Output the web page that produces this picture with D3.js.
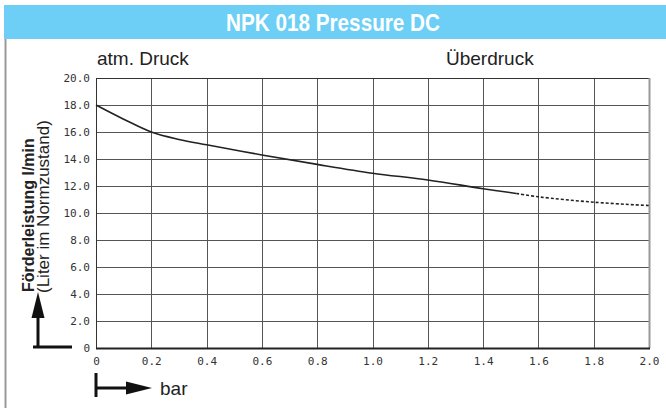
<!DOCTYPE html>
<html>
<head>
<meta charset="utf-8">
<script src="https://cdn.jsdelivr.net/npm/d3@7"></script>
<style>
  body { margin: 0; background: #fff; }
  svg { display: block; }
  .tick text { font-family: "DejaVu Sans Mono", monospace; font-size: 11px; fill: #333; }
</style>
</head>
<body>
<svg id="chart" width="666" height="408"></svg>
<script>
// pressure (bar) vs delivery rate (l/min)
var solidX = [0, 0.1, 0.2, 0.3, 0.4, 0.6, 0.8, 1.0, 1.2, 1.4, 1.52];
var solidY = [18.0, 16.95, 16.0, 15.45, 15.05, 14.3, 13.6, 12.95, 12.45, 11.8, 11.45];
var dashX = [1.52, 1.6, 1.8, 2.0];
var dashY = [11.45, 11.2, 10.8, 10.55];

var xTicks = [0, 0.2, 0.4, 0.6, 0.8, 1.0, 1.2, 1.4, 1.6, 1.8, 2.0];
var xLabels = ["0", "0.2", "0.4", "0.6", "0.8", "1.0", "1.2", "1.4", "1.6", "1.8", "2.0"];
var yTicks = [0, 2, 4, 6, 8, 10, 12, 14, 16, 18, 20];
var yLabels = ["0", "2.0", "4.0", "6.0", "8.0", "10.0", "12.0", "14.0", "16.0", "18.0", "20.0"];

var svg = d3.select("#chart");
var pLeft = 96, pRight = 649, pTop = 78, pBottom = 348;

var x = d3.scaleLinear().domain([0, 2]).range([pLeft, pRight]);
var y = d3.scaleLinear().domain([0, 20]).range([pBottom, pTop]);

// header banner
svg.append("rect").attr("x", 4).attr("y", 5).attr("width", 662).attr("height", 34).attr("fill", "#6dcff6");
svg.append("text")
  .attr("x", 333).attr("y", 31)
  .attr("text-anchor", "middle")
  .attr("font-family", "Liberation Sans, Arial, sans-serif")
  .attr("font-weight", "bold").attr("font-size", 24)
  .attr("textLength", 214).attr("lengthAdjust", "spacingAndGlyphs")
  .attr("fill", "#fff")
  .text("NPK 018 Pressure DC");

// left border of the panel
svg.append("line").attr("x1", 5.5).attr("x2", 5.5).attr("y1", 39).attr("y2", 408)
  .attr("stroke", "#999").attr("stroke-width", 2);

// labels above the plot
svg.append("text").attr("x", 97).attr("y", 65)
  .attr("font-family", "Liberation Sans, Arial, sans-serif").attr("font-size", 19).attr("fill", "#222")
  .text("atm. Druck");
svg.append("text").attr("x", 446).attr("y", 65)
  .attr("font-family", "Liberation Sans, Arial, sans-serif").attr("font-size", 19).attr("fill", "#222")
  .text("Überdruck");

// grid
var grid = svg.append("g").attr("stroke", "#555").attr("stroke-width", 1).attr("shape-rendering", "crispEdges");
grid.selectAll(".vg").data(xTicks.slice(1, -1)).enter().append("line")
  .attr("x1", function(d) { return Math.round(x(d)) + 0.5; })
  .attr("x2", function(d) { return Math.round(x(d)) + 0.5; })
  .attr("y1", pTop).attr("y2", pBottom);
grid.selectAll(".hg").data(yTicks.slice(1, -1)).enter().append("line")
  .attr("y1", function(d) { return Math.round(y(d)) + 0.5; })
  .attr("y2", function(d) { return Math.round(y(d)) + 0.5; })
  .attr("x1", pLeft).attr("x2", pRight);

// frame
svg.append("rect").attr("x", pLeft + 0.5).attr("y", pTop + 0.5)
  .attr("width", pRight - pLeft).attr("height", pBottom - pTop)
  .attr("fill", "none").attr("stroke", "#333").attr("stroke-width", 1);
svg.append("line").attr("x1", pRight + 0.5).attr("x2", pRight + 0.5).attr("y1", pTop).attr("y2", pBottom)
  .attr("stroke", "#999").attr("stroke-width", 2);
svg.append("line").attr("x1", pLeft).attr("x2", pRight + 1).attr("y1", pBottom + 0.5).attr("y2", pBottom + 0.5)
  .attr("stroke", "#222").attr("stroke-width", 2);

// axes (labels only)
var xAxis = svg.append("g").attr("transform", "translate(0," + pBottom + ")")
  .call(d3.axisBottom(x).tickValues(xTicks).tickSize(0).tickPadding(9)
    .tickFormat(function(d, i) { return xLabels[i]; }));
xAxis.select(".domain").remove();

var yAxis = svg.append("g").attr("transform", "translate(" + (pLeft - 1) + ",0)")
  .call(d3.axisLeft(y).tickValues(yTicks).tickSize(0).tickPadding(5)
    .tickFormat(function(d, i) { return yLabels[i]; }));
yAxis.select(".domain").remove();

// curve
var solid = solidX.map(function(d, i) { return [d, solidY[i]]; });
var dashed = dashX.map(function(d, i) { return [d, dashY[i]]; });
var line = d3.line()
  .x(function(d) { return x(d[0]); })
  .y(function(d) { return y(d[1]); })
  .curve(d3.curveCatmullRom.alpha(0.5));

svg.append("path").datum(solid).attr("d", line)
  .attr("fill", "none").attr("stroke", "#222").attr("stroke-width", 1.6);
svg.append("path").datum(dashed).attr("d", line)
  .attr("fill", "none").attr("stroke", "#222").attr("stroke-width", 1.6)
  .attr("stroke-dasharray", "3,2");

// y axis title
var yt = svg.append("g").attr("font-family", "Liberation Sans, Arial, sans-serif").attr("fill", "#222");
yt.append("text").attr("transform", "translate(34,292) rotate(-90)")
  .attr("font-size", 16).attr("font-weight", "bold").text("Förderleistung l/min");
yt.append("text").attr("transform", "translate(49,293) rotate(-90)")
  .attr("font-size", 17).text("(Liter im Normzustand)");

// arrows
var arrows = svg.append("g").attr("stroke", "#111").attr("fill", "#111");
arrows.append("line").attr("x1", 33).attr("x2", 72).attr("y1", 347).attr("y2", 347).attr("stroke-width", 3);
arrows.append("line").attr("x1", 38).attr("x2", 38).attr("y1", 347).attr("y2", 312).attr("stroke-width", 3);
arrows.append("path").attr("d", "M38,292 L44.5,318 L31.5,318 Z").attr("stroke", "none");

arrows.append("line").attr("x1", 96).attr("x2", 96).attr("y1", 373).attr("y2", 397).attr("stroke-width", 3);
arrows.append("line").attr("x1", 96).attr("x2", 132).attr("y1", 388).attr("y2", 388).attr("stroke-width", 3);
arrows.append("path").attr("d", "M152,388 L126,381.5 L126,394.5 Z").attr("stroke", "none");

svg.append("text").attr("x", 160).attr("y", 395)
  .attr("font-family", "Liberation Sans, Arial, sans-serif").attr("font-size", 19).attr("fill", "#222")
  .text("bar");
</script>
</body>
</html>
